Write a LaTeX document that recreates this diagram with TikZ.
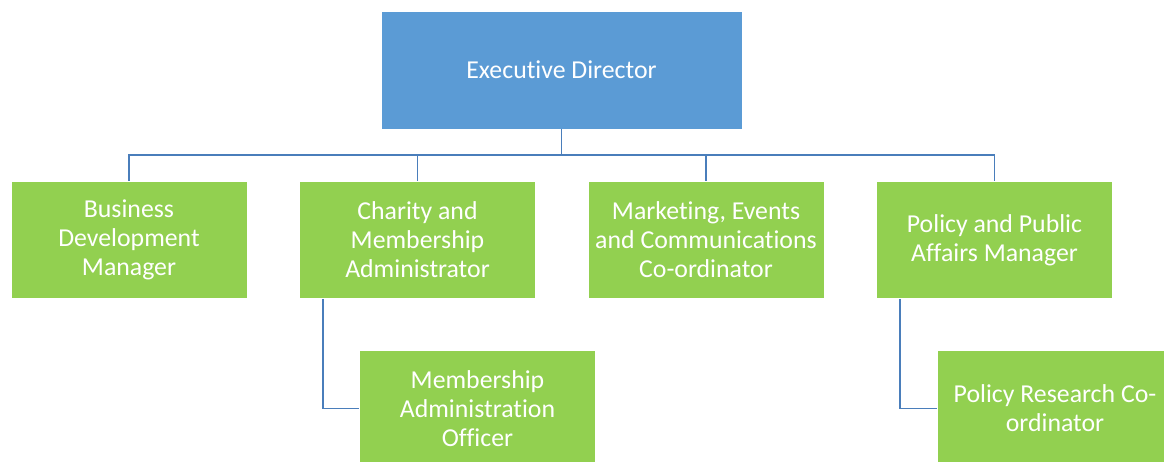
\documentclass[tikz,border=0pt]{standalone}
\usepackage{fontspec}
\setmainfont{Carlito}[Ligatures=NoCommon]
\usetikzlibrary{positioning}
\definecolor{headblue}{HTML}{5B9BD5}
\definecolor{postgreen}{HTML}{92D050}
\definecolor{linkblue}{HTML}{4A7EBB}

\tikzset{
  post/.style={fill=postgreen, draw=white, line width=0.8pt, text=white,
    align=center, inner sep=0pt, minimum width=236pt, minimum height=117pt,
    font=\fontsize{25.8}{29}\selectfont},
  link/.style={draw=linkblue, line width=1.6pt},
}

\begin{document}
\begin{tikzpicture}[x=1pt,y=-1pt]
  \useasboundingbox (0,0) rectangle (1164,461);
  % top of the chart
  \node[post, fill=headblue, minimum width=361pt, minimum height=118pt] (dir) at (561.5,70) {Executive Director};
  % second row
  \node[post] (bdm) at (129,240) {Business\\Development\\Manager};
  \node[post] (cma) at (417.5,240) {Charity and\\Membership\\Administrator};
  \node[post] (mec) at (706,240) {Marketing, Events\\and Communications\\Co-ordinator};
  \node[post] (ppa) at (994.5,240) {Policy and Public\\Affairs Manager};
  % third row
  \node[post] (mao) at (477.5,408.5) {Membership\\Administration\\Officer};
  \node[post] (prc) at (1055,408.5) {Policy Research Co-\\ordinator};

  \coordinate (bus) at (561.5,155);
  \draw[link] (dir.south) -- (bus);
  \foreach \n in {bdm,cma,mec,ppa}
    \draw[link] (bus) -| (\n.north);
  \draw[link] ([xshift=-94.5pt]cma.south) |- (mao.west);
  \draw[link] ([xshift=-94.5pt]ppa.south) |- (prc.west);
\end{tikzpicture}
\end{document}
